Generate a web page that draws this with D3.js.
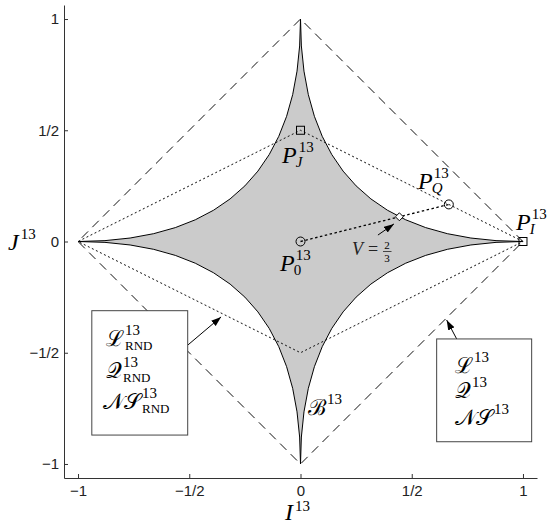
<!DOCTYPE html>
<html lang="en">
<head>
  <meta charset="UTF-8">
  <title>Region B13 in the (I13, J13) plane</title>
  <script src="https://d3js.org/d3.v7.min.js"></script>
  <style>
    body { margin: 0; background: #fff; }
    .tick text { font-family: "Liberation Sans", Arial, sans-serif; font-size: 15px; fill: #222; }
    .tick line, .domain { stroke: #333; }
  </style>
</head>
<body>
  <svg width="554" height="525"></svg>

  <script>
    // Tick values and their labels (same on both axes)
    const ticks = [-1, -0.5, 0, 0.5, 1];
    const tickLabels = ["\u22121", "\u22121/2", "0", "1/2", "1"];

    // Outer dashed region (L13, Q13, NS13) and dotted region (..._RND)
    const outerDiamond = [[1, 0], [0, 1], [-1, 0], [0, -1]];
    const rndDiamond = [[1, 0], [0, 0.5], [-1, 0], [0, -0.5]];

    // Boundary of B13: four parabolic arcs between cusps, all bending toward the origin
    const cusps = [[1, 0], [0, 1], [-1, 0], [0, -1]];
    const ctrlPoint = [0, 0];

    // Marked points
    const squarePts = [[0, 0.5], [1, 0]];     // P_J, P_I
    const circlePts = [[0, 0], [2 / 3, 1 / 6]]; // P_0, P_Q
    const diamondPt = [4 / 9, 1 / 9];         // V = 2/3
    const segment = [[0, 0], [2 / 3, 1 / 6]];

    const svg = d3.select("svg");
    const serif = "'Liberation Serif', 'DejaVu Serif', serif";

    const x = d3.scaleLinear().domain([-1.063, 1.063]).range([64, 537]);
    const y = d3.scaleLinear().domain([-1.063, 1.063]).range([478, 5]);

    const line = d3.line().x(d => x(d[0])).y(d => y(d[1]));
    const closed = d3.line().x(d => x(d[0])).y(d => y(d[1])).curve(d3.curveLinearClosed);

    // gray region B13
    const p = d3.path();
    p.moveTo(x(cusps[0][0]), y(cusps[0][1]));
    for (let i = 1; i <= cusps.length; i++) {
      const c = cusps[i % cusps.length];
      p.quadraticCurveTo(x(ctrlPoint[0]), y(ctrlPoint[1]), x(c[0]), y(c[1]));
    }
    p.closePath();
    svg.append("path")
       .attr("d", p.toString())
       .attr("fill", "#cbcbcb")
       .attr("stroke", "#000")
       .attr("stroke-width", 1);

    // dashed and dotted diamonds
    svg.append("path")
       .attr("d", closed(outerDiamond))
       .attr("fill", "none")
       .attr("stroke", "#111")
       .attr("stroke-dasharray", "9,6");

    svg.append("path")
       .attr("d", closed(rndDiamond))
       .attr("fill", "none")
       .attr("stroke", "#111")
       .attr("stroke-dasharray", "2,2.5");

    // dotted segment P0 -> PQ
    svg.append("path")
       .attr("d", line(segment))
       .attr("fill", "none")
       .attr("stroke", "#000")
       .attr("stroke-width", 1.3)
       .attr("stroke-dasharray", "2.5,2.5");

    // axes
    svg.append("g")
       .attr("transform", `translate(0,${y(-1.063)})`)
       .call(d3.axisBottom(x).tickValues(ticks).tickFormat((d, i) => tickLabels[i])
             .tickSizeInner(-4).tickSizeOuter(0).tickPadding(7));

    svg.append("g")
       .attr("transform", `translate(${x(-1.063)},0)`)
       .call(d3.axisLeft(y).tickValues(ticks).tickFormat((d, i) => tickLabels[i])
             .tickSizeInner(-4).tickSizeOuter(0).tickPadding(5));

    // markers
    svg.selectAll(".sq").data(squarePts).enter().append("rect")
       .attr("x", d => x(d[0]) - 4).attr("y", d => y(d[1]) - 4)
       .attr("width", 8).attr("height", 8)
       .attr("fill", "none").attr("stroke", "#000");

    svg.selectAll(".ci").data(circlePts).enter().append("circle")
       .attr("cx", d => x(d[0])).attr("cy", d => y(d[1]))
       .attr("r", 4.5)
       .attr("fill", "none").attr("stroke", "#000");

    svg.append("path")
       .attr("d", d3.symbol(d3.symbolDiamond2, 40)())
       .attr("transform", `translate(${x(diamondPt[0])},${y(diamondPt[1])})`)
       .attr("fill", "#fff").attr("stroke", "#000");

    // arrowheads
    svg.append("defs").append("marker")
       .attr("id", "arr")
       .attr("viewBox", "0 -4 10 8")
       .attr("refX", 10).attr("refY", 0)
       .attr("markerUnits", "userSpaceOnUse")
       .attr("markerWidth", 10).attr("markerHeight", 8)
       .attr("orient", "auto")
       .append("path").attr("d", "M0,-3.5L10,0L0,3.5Z").attr("fill", "#000");

    function arrow(a, b) {
      svg.append("line")
         .attr("x1", x(a[0])).attr("y1", y(a[1]))
         .attr("x2", x(b[0])).attr("y2", y(b[1]))
         .attr("stroke", "#000").attr("stroke-width", 1)
         .attr("marker-end", "url(#arr)");
    }
    arrow([-0.506, -0.465], [-0.357, -0.339]);
    arrow([0.702, -0.438], [0.657, -0.353]);
    arrow([0.348, 0.029], [0.420, 0.079]);

    // boxes
    function box(i0, i1, j0, j1) {
      svg.append("rect")
         .attr("x", x(i0)).attr("y", y(j0))
         .attr("width", x(i1) - x(i0)).attr("height", y(j1) - y(j0))
         .attr("fill", "#fff").attr("stroke", "#444");
    }
    box(-0.938, -0.507, -0.311, -0.870);
    box(0.612, 1.039, -0.438, -0.900);

    // math-like labels: main glyph + stacked superscript / subscript
    function mlabel(px, py, main, sup, sub, o = {}) {
      const t = svg.append("text")
         .attr("x", px).attr("y", py)
         .attr("font-family", serif)
         .attr("font-size", o.size || 24)
         .attr("font-style", o.upright ? "normal" : "italic")
         .text(main);
      const w = t.node().getComputedTextLength();
      if (sup) svg.append("text")
         .attr("x", px + w + (o.supDx || 1)).attr("y", py - (o.supUp || 11))
         .attr("font-family", serif).attr("font-size", 15)
         .text(sup);
      if (sub) svg.append("text")
         .attr("x", px + w + (o.subDx || -1)).attr("y", py + (o.subDown || 4))
         .attr("font-family", serif).attr("font-size", o.subSize || 15)
         .attr("font-style", o.subItalic ? "italic" : "normal")
         .text(sub);
    }

    const cal = { upright: true, size: 22, supDx: 1 };
    const calRnd = { upright: true, size: 22, supDx: 1, subDx: 1, subSize: 13, supUp: 11, subDown: 4 };

    mlabel(282, 163, "P", "13", "J", { subItalic: true, supDx: 2, subDx: 0 });
    mlabel(280, 271, "P", "13", "0", { supDx: 1, subDx: -1 });
    mlabel(418, 189, "P", "13", "Q", { subItalic: true, supDx: 1, subDx: -1 });
    mlabel(516, 230, "P", "13", "I", { subItalic: true, supDx: 1, subDx: -1 });
    mlabel(308, 415, "\u212C", "13", null, cal);
    mlabel(8, 250, "J", "13", null, { supDx: 2 });
    mlabel(285, 520, "I", "13", null, { supDx: 2, supUp: 9 });

    // left box
    mlabel(106, 346, "\u2112", "13", "RND", calRnd);
    mlabel(106, 378, "\uD835\uDCAC", "13", "RND", calRnd);
    mlabel(103, 409, "\uD835\uDCA9\uD835\uDCAE", "13", "RND", calRnd);

    // right box
    mlabel(455, 373, "\u2112", "13", null, cal);
    mlabel(455, 398, "\uD835\uDCAC", "13", null, cal);
    mlabel(455, 425, "\uD835\uDCA9\uD835\uDCAE", "13", null, cal);

    // V = 2/3
    svg.append("text").attr("x", 352).attr("y", 255)
       .attr("font-family", serif).attr("font-size", 18).attr("font-style", "italic")
       .attr("fill", "#222").text("V");
    svg.append("text").attr("x", 368).attr("y", 255)
       .attr("font-family", serif).attr("font-size", 18)
       .attr("fill", "#222").text("=");
    svg.append("text").attr("x", 387).attr("y", 249)
       .attr("text-anchor", "middle")
       .attr("font-family", serif).attr("font-size", 11).text("2");
    svg.append("line").attr("x1", 383).attr("x2", 391.5)
       .attr("y1", 251.5).attr("y2", 251.5).attr("stroke", "#222").attr("stroke-width", 0.8);
    svg.append("text").attr("x", 387).attr("y", 262)
       .attr("text-anchor", "middle")
       .attr("font-family", serif).attr("font-size", 11).text("3");
  </script>
</body>
</html>
